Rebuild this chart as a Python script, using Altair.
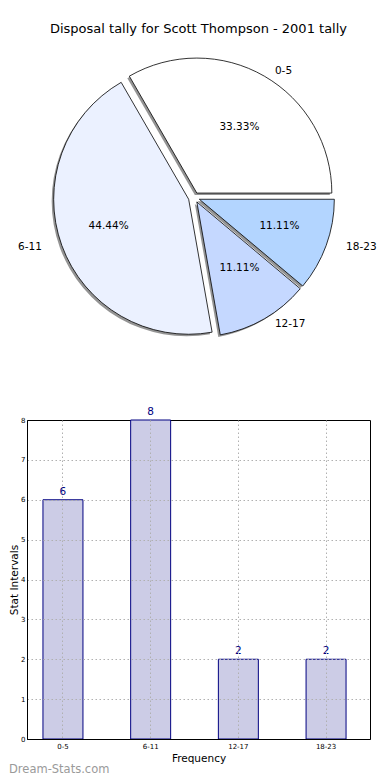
import altair as alt
import pandas as pd

# ---- data ----
cats = ["0-5", "6-11", "12-17", "18-23"]
values = [6, 8, 2, 2]
pie_colors = ["#ffffff", "#ebf1ff", "#c5d8ff", "#b3d5ff"]
y_ticks = [0, 1, 2, 3, 4, 5, 6, 7, 8]
pie_title = "Disposal tally for Scott Thompson - 2001 tally"
x_title = "Frequency"
y_title = "Stat Intervals"
watermark = ["Dream-Stats.com"]

FONT = "DejaVu Sans"
RX, RY = 142, 128          # pixel radii of the original (elliptic) pie
W1, H1 = 343, 293          # pie panel
W2, H2 = 343, 319          # bar panel
PIE_CX = 167               # pie centre inside its panel
EXPLODE = 0.04
R_PIX = 135

df = pd.DataFrame({"cat": cats, "value": values, "idx": list(range(len(cats)))})

xs = alt.Scale(domain=[-PIE_CX / RX, (W1 - PIE_CX) / RX], nice=False, zero=False)
ys = alt.Scale(domain=[-H1 / 2 / RY, H1 / 2 / RY], nice=False, zero=False)

base = (
    alt.Chart(df)
    .transform_joinaggregate(total="sum(value)")
    .transform_window(cum="sum(value)", sort=[alt.SortField("idx", order="ascending")], frame=[None, 0])
    .transform_calculate(a0="(datum.cum - datum.value) / datum.total * 2 * PI")
    .transform_calculate(a1="datum.cum / datum.total * 2 * PI")
    .transform_calculate(am="(datum.a0 + datum.a1) / 2")
    .transform_calculate(t0="PI / 2 - datum.a0")
    .transform_calculate(t1="PI / 2 - datum.a1")
    .transform_calculate(cx=f"{EXPLODE} * cos(datum.am)")
    .transform_calculate(cy=f"{EXPLODE} * sin(datum.am)")
    .transform_calculate(lx="datum.cx + 1.1 * cos(datum.am)")
    .transform_calculate(ly="datum.cy + 1.1 * sin(datum.am)")
    .transform_calculate(px="datum.cx + 0.6 * cos(datum.am)")
    .transform_calculate(py="datum.cy + 0.6 * sin(datum.am)")
    .transform_calculate(pct="format(datum.value / datum.total * 100, '.2f') + '%'")
    .transform_calculate(right="cos(datum.am) >= 0")
)

arc_enc = dict(
    x=alt.X("cx:Q", scale=xs, axis=None),
    y=alt.Y("cy:Q", scale=ys, axis=None),
    theta=alt.Theta("t0:Q", scale=None, stack=None),
    theta2=alt.Theta2("t1:Q"),
)

shadow = base.mark_arc(outerRadius=R_PIX, fill="black", opacity=0.42, xOffset=-2, yOffset=2).encode(**arc_enc)
wedges = base.mark_arc(outerRadius=R_PIX, stroke="black", strokeWidth=0.8).encode(
    fill=alt.Fill("cat:N", scale=alt.Scale(domain=cats, range=pie_colors), legend=None),
    **arc_enc,
)
lab_r = base.transform_filter("datum.right").mark_text(
    align="left", baseline="middle", font=FONT, fontSize=10.5, color="black"
).encode(x=alt.X("lx:Q", scale=xs, axis=None), y=alt.Y("ly:Q", scale=ys, axis=None), text="cat:N")
lab_l = base.transform_filter("!datum.right").mark_text(
    align="right", baseline="middle", font=FONT, fontSize=10.5, color="black"
).encode(x=alt.X("lx:Q", scale=xs, axis=None), y=alt.Y("ly:Q", scale=ys, axis=None), text="cat:N")
pcts = base.mark_text(align="center", baseline="middle", font=FONT, fontSize=10.5, color="black").encode(
    x=alt.X("px:Q", scale=xs, axis=None), y=alt.Y("py:Q", scale=ys, axis=None), text="pct:N"
)

pie = alt.layer(shadow, wedges, lab_r, lab_l, pcts).properties(
    width=W1,
    height=H1,
    title=alt.Title(text=pie_title, font=FONT, fontSize=13, fontWeight="normal", color="black",
                    anchor="middle", offset=15),
    view=alt.ViewBackground(stroke=None),
)

# ---- bar chart ----
bdf = pd.DataFrame({"cat": cats, "value": values})
grid_style = dict(grid=True, gridDash=[1.5, 2.5], gridColor="#b0b0b0", gridWidth=1)
bx = alt.X(
    "cat:N", sort=cats,
    scale=alt.Scale(paddingInner=0.544, paddingOuter=0.2275, align=0.40),
    axis=alt.Axis(title=x_title, labelAngle=0, labelFont=FONT, labelFontSize=7, labelColor="black",
                  titleFont=FONT, titleFontSize=10.5, titleFontWeight="normal", titleColor="black",
                  ticks=False, labelPadding=3, titlePadding=4, bandPosition=0.5,
                  domain=True, domainColor="black", domainWidth=1, zindex=1, **grid_style),
)
by = alt.Y(
    "value:Q", scale=alt.Scale(domain=[0, 8], nice=False),
    axis=alt.Axis(title=y_title, values=y_ticks, tickCount=20, format="d", labelOverlap=False,
                  labelFont=FONT, labelFontSize=7, labelColor="black",
                  titleFont=FONT, titleFontSize=10.5, titleFontWeight="normal", titleColor="black",
                  ticks=False, labelPadding=2, titlePadding=1,
                  domain=True, domainColor="black", domainWidth=1, zindex=1,
                  gridOpacity=alt.condition("datum.value == 8 || datum.value == 0", alt.value(0), alt.value(1)),
                  **grid_style),
)
bars = alt.Chart(bdf).mark_bar(fill="#ccccE6", stroke="#000080", strokeWidth=1).encode(x=bx, y=by)
blabels = alt.Chart(bdf).mark_text(baseline="bottom", dy=-3, color="#000080", font=FONT, fontSize=10.5).encode(
    x=bx, y=by, text="value:Q"
)
wm = alt.Chart(pd.DataFrame({"t": watermark})).mark_text(
    align="left", baseline="middle", font=FONT, fontSize=11.5, color="#9a9a9a"
).encode(x=alt.value(-18), y=alt.value(350), text="t:N")

barchart = alt.layer(bars, blabels, wm).properties(
    width=W2, height=H2, view=alt.ViewBackground(stroke="black", strokeWidth=1)
)

chart = alt.vconcat(pie, barchart, spacing=76, bounds="flush").properties(
    padding={"left": 0, "top": 15, "right": 0, "bottom": 0},
    background="white",
)

chart.save("out.html", embed_options={"renderer": "svg", "actions": False})
